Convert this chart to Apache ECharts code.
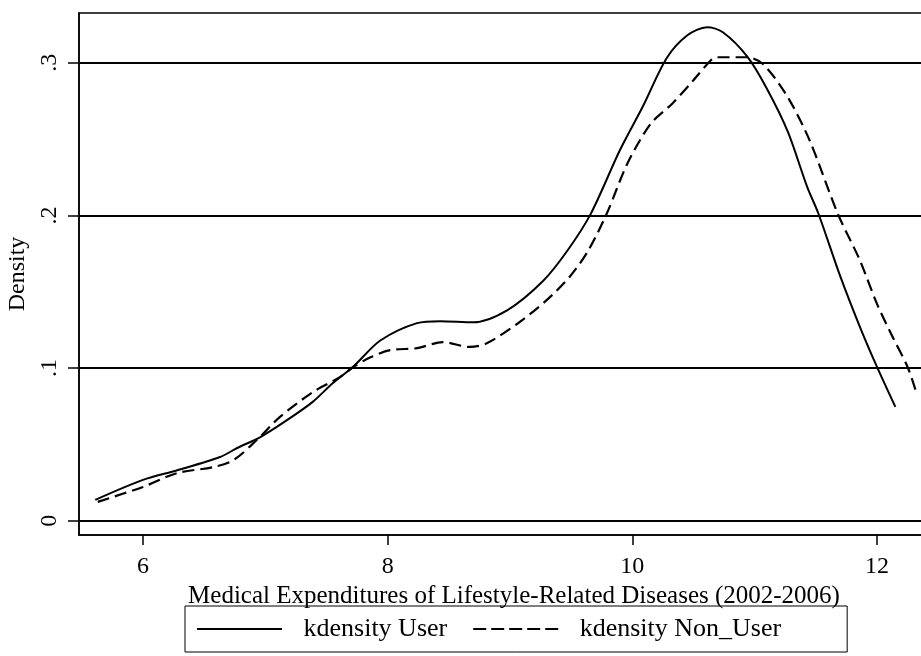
<!DOCTYPE html>
<html>
<head>
<meta charset="utf-8">
<title>kdensity</title>
<script src="https://cdn.jsdelivr.net/npm/echarts@6/dist/echarts.min.js"></script>
<style>
body { margin: 0; padding: 0; background: #fff; }
#main { width: 921px; height: 656px; }
</style>
</head>
<body>
<div id="main"></div>
<script>
// kernel density, users
var userX = [5.61, 6.00, 6.28, 6.63, 6.77, 6.96, 7.18, 7.39, 7.55, 7.72, 7.94, 8.24, 8.43, 8.70, 8.98, 9.27, 9.47,
  9.66, 9.90, 10.09, 10.28, 10.45, 10.61, 10.74, 10.94, 11.10, 11.27, 11.43, 11.52, 11.70, 11.86, 12.00, 12.15];
var userY = [0.0136, 0.0267, 0.033, 0.0417, 0.0476, 0.0548, 0.066, 0.078, 0.090, 0.101, 0.118, 0.1294, 0.1307, 0.130, 0.138, 0.157, 0.177,
  0.201, 0.243, 0.272, 0.303, 0.318, 0.3233, 0.320, 0.304, 0.283, 0.255, 0.2185, 0.2014, 0.160, 0.127, 0.1007, 0.0745];
// kernel density, non users
var nonX = [5.63, 6.00, 6.28, 6.57, 6.74, 6.93, 7.12, 7.39, 7.61, 7.72, 7.86, 8.02, 8.24, 8.45, 8.67, 8.81, 9.06, 9.30, 9.49,
  9.64, 9.79, 9.96, 10.15, 10.33, 10.50, 10.64, 10.69, 10.94, 11.07, 11.27, 11.45, 11.68, 11.86, 12.00, 12.13, 12.25, 12.32];
var nonY = [0.0123, 0.0221, 0.0312, 0.035, 0.0397, 0.0528, 0.068, 0.0843, 0.094, 0.1007, 0.107, 0.1117, 0.113, 0.117, 0.1138, 0.1162, 0.129, 0.1445, 0.160,
  0.177, 0.201, 0.234, 0.260, 0.2735, 0.2886, 0.3015, 0.3036, 0.3036, 0.299, 0.2775, 0.249, 0.201, 0.1706, 0.142, 0.120, 0.1007, 0.0843];

var xTicks = [6, 8, 10, 12];
var yTicks = [0, 0.1, 0.2, 0.3];

function zip(a, b) {
  return a.map(function (v, i) { return [v, b[i]]; });
}

var serif = 'Liberation Serif';
// legend samples: plain line and five dashes
var solidIcon = 'path://M0,0H85V2H0Z';
var dashIcon = 'path://M0,0H13V2H0Z M18,0H31V2H18Z M36,0H49V2H36Z M54,0H67V2H54Z M72,0H85V2H72Z';

var myChart = echarts.init(document.getElementById('main'));
var option = {
  animation: false,
  backgroundColor: '#fff',
  textStyle: { fontFamily: serif, color: '#000' },
  grid: {
    left: 79, top: 13, right: -2, bottom: 121,
    outerBoundsMode: 'none',
    show: true, borderColor: '#000', borderWidth: 1.5
  },
  legend: {
    left: 185, top: 606,
    orient: 'horizontal',
    padding: [10, 66, 10, 12],
    itemGap: 26,
    itemWidth: 90,
    itemHeight: 2,
    borderColor: '#000',
    borderWidth: 1,
    textStyle: { fontFamily: serif, fontSize: 26, color: '#000', padding: [0, 0, 0, 14] },
    data: [
      { name: 'kdensity User', icon: solidIcon },
      { name: 'kdensity Non_User', icon: dashIcon }
    ]
  },
  xAxis: {
    type: 'value',
    min: 5.477, max: 12.376,
    name: 'Medical Expenditures of Lifestyle-Related Diseases (2002-2006)',
    nameLocation: 'middle',
    nameGap: 42,
    nameTextStyle: { fontFamily: serif, fontSize: 25, color: '#000', padding: [0, 0, 0, 26] },
    axisLine: { show: true, onZero: false, lineStyle: { color: '#000', width: 1.5 } },
    axisTick: { show: true, length: 10, customValues: xTicks, lineStyle: { color: '#000', width: 1.5 } },
    axisLabel: { customValues: xTicks, margin: 20, fontSize: 24, fontFamily: serif, color: '#000' },
    splitLine: { show: false }
  },
  yAxis: {
    type: 'value',
    min: -0.0094, max: 0.3326,
    name: 'Density',
    nameLocation: 'middle',
    nameGap: 42,
    nameRotate: 90,
    nameTextStyle: { fontFamily: serif, fontSize: 24, color: '#000' },
    axisLine: { show: true, onZero: false, lineStyle: { color: '#000', width: 1.5 } },
    axisTick: { show: true, length: 11, customValues: yTicks, lineStyle: { color: '#000', width: 1.5 } },
    axisLabel: {
      customValues: yTicks, rotate: 90, margin: 17, fontSize: 24, fontFamily: serif, color: '#000',
      formatter: function (v) { return v === 0 ? '0' : String(+v.toFixed(1)).replace('0.', '.'); }
    },
    splitLine: { show: false }
  },
  series: [
    {
      name: 'kdensity User',
      type: 'line',
      data: zip(userX, userY),
      smooth: 0.3,
      symbol: 'none',
      lineStyle: { color: '#000', width: 2, type: 'solid' },
      itemStyle: { color: '#000' },
      markLine: {
        silent: true,
        symbol: 'none',
        label: { show: false },
        lineStyle: { color: '#000', width: 2, type: 'solid' },
        data: yTicks.map(function (t) { return { yAxis: t }; })
      }
    },
    {
      name: 'kdensity Non_User',
      type: 'line',
      data: zip(nonX, nonY),
      smooth: 0.3,
      symbol: 'none',
      lineStyle: { color: '#000', width: 2.2, type: [12, 6] },
      itemStyle: { color: '#000' }
    }
  ]
};
myChart.setOption(option);
</script>
</body>
</html>
